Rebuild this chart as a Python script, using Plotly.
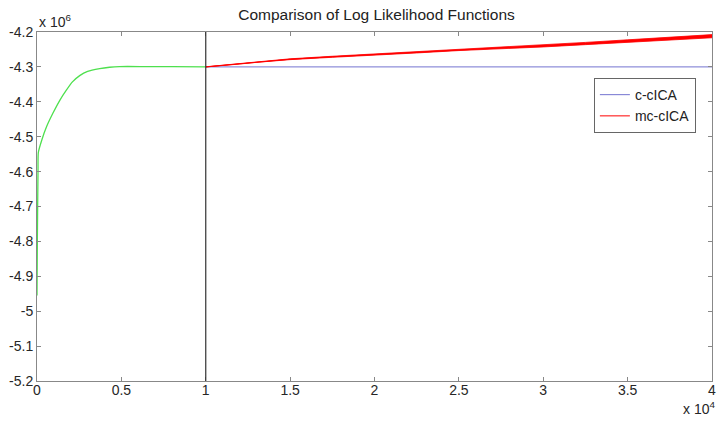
import plotly.graph_objects as go

# ---- data (x in units of 1e4 iterations, y in units of 1e6) ----
green_x = [0, 0.002, 0.006, 0.008, 0.028, 0.057, 0.094, 0.136, 0.175, 0.21, 0.253, 0.30, 0.371, 0.43, 0.489, 0.65, 0.8, 1.0]
green_y = [-4.955, -4.80, -4.60, -4.545, -4.51, -4.471, -4.433, -4.395, -4.366, -4.343, -4.325, -4.313, -4.305, -4.301, -4.299, -4.299, -4.299, -4.300]

blue_x = [1.0, 4.0]
blue_y = [-4.300, -4.300]

red_x = [1.0, 1.1, 1.2, 1.3, 1.4, 1.5, 1.75, 2.0, 2.25, 2.5, 2.75, 3.0, 3.25, 3.5, 3.75, 4.0]
red_mid = [-4.300, -4.296, -4.291, -4.286, -4.282, -4.278, -4.271, -4.265, -4.258, -4.251, -4.246, -4.240, -4.233, -4.226, -4.219, -4.212]
red_spread = [0.0003, 0.0006, 0.0008, 0.001, 0.001, 0.0012, 0.0015, 0.0018, 0.002, 0.0022, 0.0025, 0.0028, 0.0032, 0.0036, 0.004, 0.0045]

sep_x = 1.0

x_ticks = [0, 0.5, 1, 1.5, 2, 2.5, 3, 3.5, 4]
x_ticktext = ["0", "0.5", "1", "1.5", "2", "2.5", "3", "3.5", "4"]
y_ticks = [-4.2, -4.3, -4.4, -4.5, -4.6, -4.7, -4.8, -4.9, -5.0, -5.1, -5.2]
y_ticktext = ["-4.2", "-4.3", "-4.4", "-4.5", "-4.6", "-4.7", "-4.8", "-4.9", "-5", "-5.1", "-5.2"]

red_upper = [m + s for m, s in zip(red_mid, red_spread)]
red_lower = [m - s for m, s in zip(red_mid, red_spread)]

FONT = "Liberation Sans, Arial, sans-serif"

fig = go.Figure()
fig.add_trace(go.Scatter(x=blue_x, y=blue_y, mode="lines", name="c-cICA",
                         line=dict(color="#7373d0", width=1)))
fig.add_trace(go.Scatter(x=red_x, y=red_mid, mode="lines", name="mc-cICA",
                         line=dict(color="#ff0000", width=1)))
fig.add_trace(go.Scatter(x=red_x, y=red_upper, mode="lines", showlegend=False,
                         line=dict(color="#ff0000", width=0.8), hoverinfo="skip"))
fig.add_trace(go.Scatter(x=red_x, y=red_lower, mode="lines", showlegend=False,
                         line=dict(color="#ff0000", width=0.8), fill="tonexty",
                         fillcolor="#ff0000", hoverinfo="skip"))
fig.add_trace(go.Scatter(x=green_x, y=green_y, mode="lines", showlegend=False,
                         line=dict(color="#4ee04e", width=1.3, shape="spline", smoothing=0.6)))

fig.add_vline(x=sep_x, line=dict(color="#333333", width=1.2))

axis_common = dict(showgrid=False, zeroline=False, showline=True, linecolor="#888888",
                   linewidth=1, mirror="ticks", ticks="inside", ticklen=4,
                   tickcolor="#888888", tickfont=dict(family=FONT, size=14, color="#262626"))

fig.update_xaxes(range=[0, 4], tickvals=x_ticks, ticktext=x_ticktext,
                 ticklabelstandoff=-4, **axis_common)
fig.update_yaxes(range=[-5.2, -4.2], tickvals=y_ticks, ticktext=y_ticktext, **axis_common)

fig.update_layout(
    width=722, height=421,
    margin=dict(l=37, r=6, t=32, b=40),
    paper_bgcolor="white", plot_bgcolor="white",
    title=dict(text="Comparison of Log Likelihood Functions", x=(376.5 / 722), xanchor="center",
               y=0.965, yanchor="middle", font=dict(family=FONT, size=15.5, color="#222222")),
    legend=dict(x=0.825, y=0.868, xanchor="left", yanchor="top", traceorder="normal",
                bgcolor="white", bordercolor="#666666", borderwidth=1,
                font=dict(family=FONT, size=14, color="#222222"),
                itemwidth=30, tracegroupgap=0),
    showlegend=True,
    annotations=[
        dict(text="x 10<sup>4</sup>", xref="paper", yref="paper", x=1.008, y=-0.11,
             xanchor="right", yanchor="bottom", showarrow=False,
             font=dict(family=FONT, size=14, color="#262626")),
        dict(text="x 10<sup>6</sup>", xref="paper", yref="paper", x=0, y=1.0,
             xanchor="left", yanchor="bottom", showarrow=False,
             font=dict(family=FONT, size=14, color="#262626")),
    ],
)

fig.write_html("out.html")
